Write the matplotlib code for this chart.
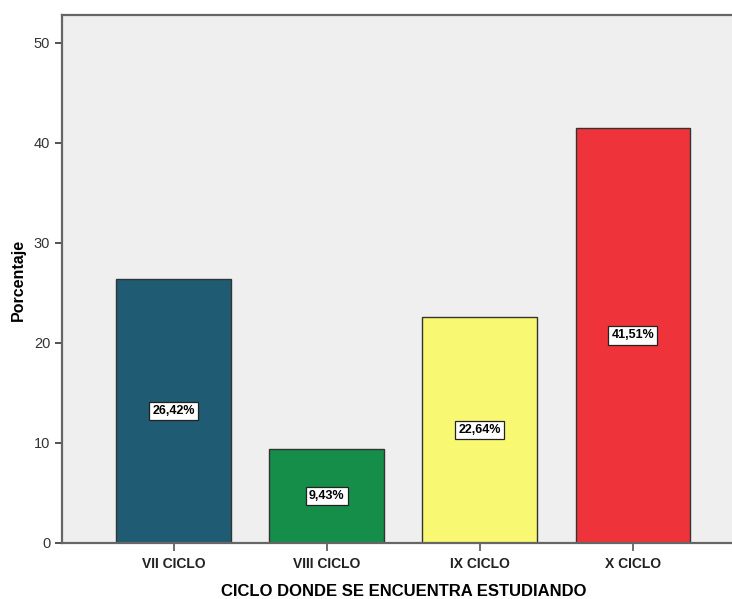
import matplotlib
matplotlib.use('Agg')
import matplotlib.pyplot as plt

categories = ['VII CICLO', 'VIII CICLO', 'IX CICLO', 'X CICLO']
percentages = [26.42, 9.43, 22.64, 41.51]
bar_colors = ['#1F5C73', '#148E48', '#F8F872', '#EF333A']

plt.rcParams['font.family'] = ['Liberation Sans', 'DejaVu Sans']

def plot_ciclo(cats, vals, colors):
    fig = plt.figure(figsize=(7.32, 5.99), dpi=100)
    ax = fig.add_axes([62 / 732, 56 / 599, 1 - 62 / 732, (543 - 15) / 599])
    ax.set_facecolor('#EFEFEF')

    x = range(len(cats))
    ax.bar(x, vals, width=0.75, color=colors, edgecolor='#333333', linewidth=1.0, zorder=2)

    for i, v in zip(x, vals):
        label = f'{v:.2f}%'.replace('.', ',')
        ax.text(i, v / 2, label, ha='center', va='center', fontsize=9, fontweight='bold',
                bbox=dict(boxstyle='square,pad=0.25', facecolor='white', edgecolor='#222222', linewidth=0.9),
                zorder=3)

    ax.set_xlim(-0.729, 3.647)
    ax.set_ylim(0, 52.8)
    ax.set_yticks([0, 10, 20, 30, 40, 50])
    ax.set_xticks(list(x))
    ax.set_xticklabels(cats, fontsize=10, fontweight='bold', color='#222222')
    ax.tick_params(axis='y', labelsize=10.5, colors='#333333', length=5, width=1.2)
    ax.tick_params(axis='x', length=6, width=1.2, colors='#555555', labelcolor='#222222', pad=4)

    for side in ['left', 'bottom', 'top']:
        ax.spines[side].set_color('#666666')
        ax.spines[side].set_linewidth(1.6)
    ax.spines['right'].set_visible(False)

    ax.set_xlabel('CICLO DONDE SE ENCUENTRA ESTUDIANDO', fontsize=12, fontweight='bold', va='center')
    ax.set_ylabel('Porcentaje', fontsize=11.5, fontweight='bold', va='center')
    ax.xaxis.set_label_coords((404 - 62) / (732 - 62), (543 - 591) / 528)
    ax.yaxis.set_label_coords((18 - 62) / (732 - 62), (543 - 280) / 528)

    fig.savefig('out.png', dpi=100, facecolor='white')

if __name__ == "__main__":
    plot_ciclo(categories, percentages, bar_colors)
